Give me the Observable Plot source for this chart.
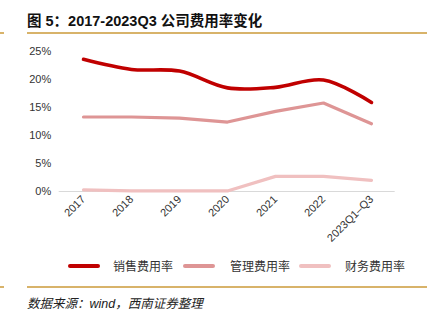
<!DOCTYPE html>
<html><head><meta charset="utf-8">
<script src="https://cdn.jsdelivr.net/npm/d3@7"></script>
<script src="https://cdn.jsdelivr.net/npm/@observablehq/plot@0.6"></script>
<style>
body{margin:0;background:#fff;width:435px;height:327px;overflow:hidden;position:relative;font-family:"Liberation Sans",Arial,sans-serif;}
#title{position:absolute;left:27px;top:9px;font-size:14.5px;font-weight:bold;color:#111;font-family:"Liberation Sans","Noto Sans CJK SC",sans-serif;white-space:nowrap;}
.hr{position:absolute;height:2px;background:#D8B36A;}
#chart{position:absolute;left:0;top:38px;}
#legend{position:absolute;top:257px;left:0;width:435px;height:18px;font-size:12px;color:#333;font-family:"Noto Sans CJK SC",sans-serif;}
.sw{position:absolute;top:7px;height:4px;width:32px;border-radius:2px;}
.lt{position:absolute;top:0;white-space:nowrap;}
#src{position:absolute;left:27px;top:293px;font-size:12.5px;font-style:italic;color:#222;font-family:"Noto Sans CJK SC","Liberation Sans",sans-serif;white-space:nowrap;}
</style></head>
<body>
<div id="title">图 5：2017-2023Q3 公司费用率变化</div>
<div class="hr" style="left:27px;top:32px;width:400px;"></div>
<div class="hr" style="left:0;top:32px;width:4px;"></div>
<div id="chart"></div>
<div id="legend"></div>
<div class="hr" style="left:27px;top:286px;width:400px;"></div>
<div class="hr" style="left:0;top:286px;width:4px;"></div>
<div id="src">数据来源：<span style="font-family:'Liberation Sans',Arial,sans-serif">wind</span>，西南证券整理</div>
<script>
const periods = ["2017","2018","2019","2020","2021","2022","2023Q1–Q3"];
const sellingRate = [23.6, 21.8, 21.5, 18.5, 18.6, 19.9, 15.9];
const adminRate   = [13.3, 13.3, 13.1, 12.4, 14.3, 15.8, 12.1];
const financeRate = [0.3, 0.1, 0.1, 0.1, 2.7, 2.7, 2.0];
const seriesNames = ["销售费用率","管理费用率","财务费用率"];
const seriesColors = ["#C00000","#DE9595","#F0C0C0"];
const yTicks = [0,5,10,15,20,25];

const seriesValues = [sellingRate, adminRate, financeRate];
const data = [];
seriesNames.forEach((name,i)=>periods.forEach((p,j)=>data.push({series:name, period:p, value:seriesValues[i][j]})));

const chart = Plot.plot({
  width: 435,
  height: 210,
  marginLeft: 58.7,
  marginRight: 40.3,
  marginTop: 13,
  marginBottom: 57,
  style: {fontFamily: "'Liberation Sans', Arial, sans-serif", fontSize: "11px", color: "#333", background: "transparent"},
  x: {type: "point", domain: periods, padding: 0.5, label: null},
  y: {domain: [0, 25], label: null},
  color: {domain: seriesNames, range: seriesColors},
  marks: [
    Plot.ruleY([0], {stroke: "#d9d9d9", strokeWidth: 1}),
    Plot.axisY({ticks: yTicks, tickSize: 0, tickPadding: 8, tickFormat: d => d + "%", label: null}),
    Plot.axisX({tickSize: 0, tickRotate: -45, tickPadding: 6, label: null}),
    Plot.line(data.filter(d=>d.series===seriesNames[2]), {x:"period", y:"value", stroke: seriesColors[2], strokeWidth: 3.2}),
    Plot.line(data.filter(d=>d.series===seriesNames[1]), {x:"period", y:"value", stroke: seriesColors[1], strokeWidth: 3.2}),
    Plot.line(data.filter(d=>d.series===seriesNames[0]), {x:"period", y:"value", stroke: seriesColors[0], strokeWidth: 3.6, curve: "catmull-rom"})
  ]
});
document.getElementById("chart").appendChild(chart);

const legend = document.getElementById("legend");
const swX = [68, 183, 299];
const txX = [113, 230, 345];
seriesNames.forEach((n,i)=>{
  const s = document.createElement("div"); s.className="sw"; s.style.left=swX[i]+"px"; s.style.background=seriesColors[i]; legend.appendChild(s);
  const t = document.createElement("div"); t.className="lt"; t.style.left=txX[i]+"px"; t.textContent=n; legend.appendChild(t);
});
</script>
</body></html>
